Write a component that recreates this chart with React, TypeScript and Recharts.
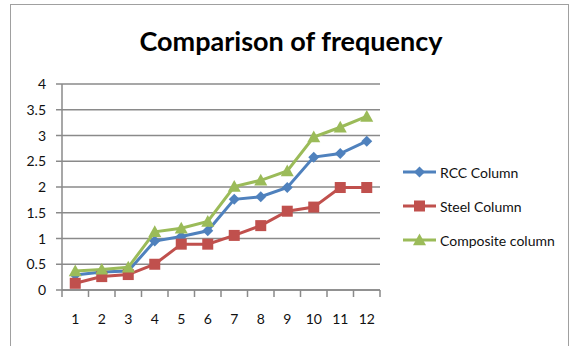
import React from 'react';
import { LineChart, Line, XAxis, YAxis, CartesianGrid, Legend } from 'recharts';

// Mode numbers along the x axis
const categories = ['1', '2', '3', '4', '5', '6', '7', '8', '9', '10', '11', '12'];

// Frequency values per mode
const rccColumn = [0.29, 0.35, 0.37, 0.95, 1.04, 1.15, 1.76, 1.81, 1.99, 2.58, 2.65, 2.89];
const steelColumn = [0.13, 0.26, 0.3, 0.5, 0.89, 0.89, 1.06, 1.25, 1.53, 1.61, 1.99, 1.99];
const compositeColumn = [0.37, 0.4, 0.44, 1.13, 1.2, 1.33, 2.01, 2.13, 2.31, 2.97, 3.16, 3.37];

const yTicks = [0, 0.5, 1, 1.5, 2, 2.5, 3, 3.5, 4];

const data = categories.map((mode, i) => ({
  mode,
  rcc: rccColumn[i],
  steel: steelColumn[i],
  composite: compositeColumn[i],
}));

const BLUE = '#4F81BD';
const RED = '#C0504D';
const GREEN = '#9BBB59';
const GRID = '#8a8a8a';
const FONT = 'Lato, "DejaVu Sans Condensed", sans-serif';
const TEXT = '#111';

const Diamond = ({ cx, cy, fill }: any) => {
  if (cx == null || cy == null) return null;
  const r = 5.5;
  return <path d={`M${cx},${cy - r}L${cx + r},${cy}L${cx},${cy + r}L${cx - r},${cy}Z`} fill={fill} />;
};

const Square = ({ cx, cy, fill }: any) => {
  if (cx == null || cy == null) return null;
  const r = 5.5;
  return <rect x={cx - r} y={cy - r} width={r * 2} height={r * 2} fill={fill} />;
};

const Triangle = ({ cx, cy, fill }: any) => {
  if (cx == null || cy == null) return null;
  const r = 6.5;
  return <path d={`M${cx},${cy - r}L${cx + r},${cy + r * 0.8}L${cx - r},${cy + r * 0.8}Z`} fill={fill} />;
};

const BAND = 318 / 12;

const XTick = ({ x, y, payload, index }: any) => (
  <g>
    <line x1={x - BAND / 2} y1={y} x2={x - BAND / 2} y2={y + 7} stroke={GRID} strokeWidth={1.5} />
    {index === categories.length - 1 && (
      <line x1={x + BAND / 2} y1={y} x2={x + BAND / 2} y2={y + 7} stroke={GRID} strokeWidth={1.5} />
    )}
    <text x={x} y={y + 34} textAnchor="middle" fontSize={14} fontFamily={FONT} fill={TEXT}>
      {payload.value}
    </text>
  </g>
);

const YTick = ({ x, y, payload }: any) => (
  <g>
    <line x1={x - 6} y1={y} x2={x} y2={y} stroke={GRID} strokeWidth={1.5} />
    <text x={x - 16} y={y + 5} textAnchor="end" fontSize={14} fontFamily={FONT} fill={TEXT}>
      {payload.value}
    </text>
  </g>
);

const legendItems = [
  { label: 'RCC Column', color: BLUE, Shape: Diamond },
  { label: 'Steel Column', color: RED, Shape: Square },
  { label: 'Composite column', color: GREEN, Shape: Triangle },
];

const LegendContent = () => (
  <div style={{ fontFamily: FONT, fontSize: 14, color: TEXT }}>
    {legendItems.map(({ label, color, Shape }) => (
      <div key={label} style={{ display: 'flex', alignItems: 'center', height: 34 }}>
        <svg width={36} height={16} style={{ display: 'block' }}>
          <line x1={0} y1={8} x2={33} y2={8} stroke={color} strokeWidth={3} />
          <Shape cx={16.5} cy={8} fill={color} />
        </svg>
        <span style={{ marginLeft: 1 }}>{label}</span>
      </div>
    ))}
  </div>
);

export default function App() {
  return (
    <div style={{ position: 'absolute', left: 0, top: 0, width: 576, height: 346, background: '#fff', overflow: 'hidden' }}>
      <div
        style={{
          position: 'absolute',
          left: 10,
          top: 4,
          width: 559,
          height: 360,
          border: '1.5px solid #a0a0a0',
          boxSizing: 'border-box',
        }}
      />
      <div
        style={{
          position: 'absolute',
          left: 0,
          width: 582,
          top: 25,
          textAlign: 'center',
          fontFamily: FONT,
          fontWeight: 'bold',
          fontSize: 27,
          lineHeight: '32px',
          color: '#000',
        }}
      >
        Comparison of frequency
      </div>
      <LineChart
        width={576}
        height={346}
        data={data}
        margin={{ top: 84, right: 196, bottom: 16, left: 0 }}
        style={{ position: 'absolute', left: 0, top: 0 }}
      >
        <CartesianGrid horizontal vertical={false} stroke={GRID} strokeWidth={1.5} />
        <XAxis
          dataKey="mode"
          scale="band"
          height={40}
          tickLine={false}
          tickSize={0}
          tickMargin={0}
          axisLine={{ stroke: GRID, strokeWidth: 1.5 }}
          tick={<XTick />}
          interval={0}
        />
        <YAxis
          width={62}
          domain={[0, 4]}
          ticks={yTicks}
          tickLine={false}
          tickSize={0}
          tickMargin={0}
          axisLine={{ stroke: GRID, strokeWidth: 1.5 }}
          tick={<YTick />}
          interval={0}
        />
        <Legend
          layout="horizontal"
          verticalAlign="middle"
          align="center"
          content={<LegendContent />}
          wrapperStyle={{ position: 'absolute', left: 403, top: 155, width: 170 }}
        />
        <Line dataKey="rcc" name="RCC Column" stroke={BLUE} strokeWidth={3} dot={<Diamond fill={BLUE} />} isAnimationActive={false} />
        <Line dataKey="steel" name="Steel Column" stroke={RED} strokeWidth={3} dot={<Square fill={RED} />} isAnimationActive={false} />
        <Line dataKey="composite" name="Composite column" stroke={GREEN} strokeWidth={3} dot={<Triangle fill={GREEN} />} isAnimationActive={false} />
      </LineChart>
    </div>
  );
}
